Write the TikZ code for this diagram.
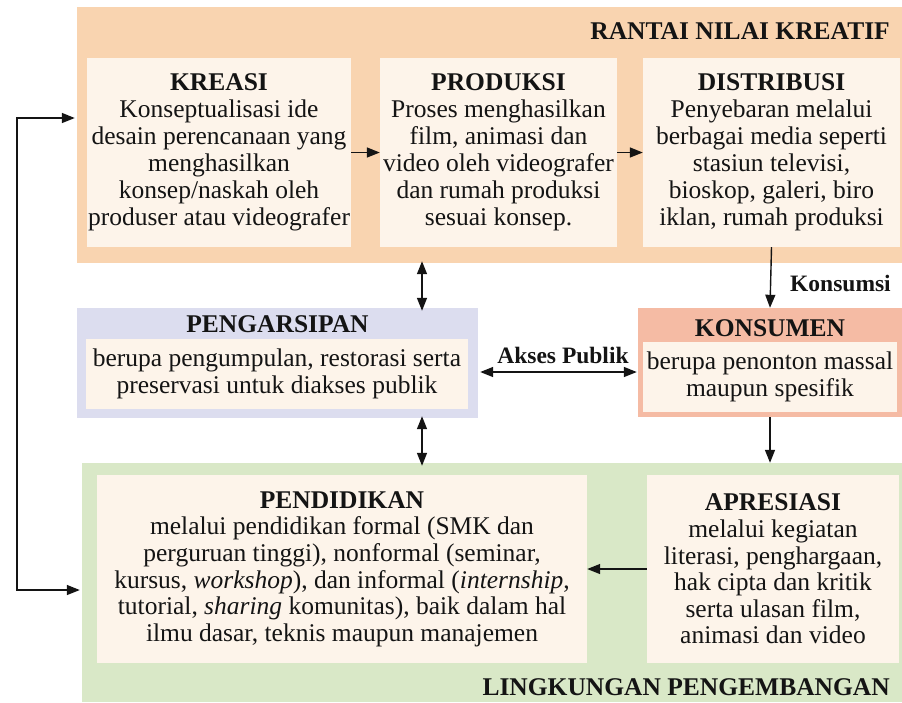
\documentclass[tikz,border=0pt]{standalone}
\usepackage{fontspec}
\setmainfont{Liberation Serif}
\usetikzlibrary{arrows.meta}
\definecolor{orangebg}{RGB}{249,212,176}
\definecolor{creambox}{RGB}{253,244,234}
\definecolor{lavbg}{RGB}{220,221,239}
\definecolor{salmonbg}{RGB}{245,187,164}
\definecolor{greenbg}{RGB}{217,232,199}
\definecolor{ink}{RGB}{20,20,20}
\tikzset{
  panel/.style={rectangle, inner sep=0pt, draw=none},
  cbox/.style={rectangle, fill=creambox, inner sep=0pt, align=center, text=ink,
    font=\fontsize{25.5}{27}\selectfont},
  ttl/.style={inner sep=0pt, text=ink, font=\fontsize{25.5}{27}\selectfont\bfseries},
  lbl/.style={inner sep=0pt, text=ink, font=\fontsize{23.5}{26}\selectfont\bfseries},
  arr/.style={draw=ink, line width=1.4pt, -{Triangle[length=13pt,width=10pt]}},
  darr/.style={draw=ink, line width=1.4pt, {Triangle[length=13pt,width=10pt]}-{Triangle[length=13pt,width=10pt]}}
}
\begin{document}
\begin{tikzpicture}[x=1pt,y=-1pt]
\useasboundingbox (0,0) rectangle (902,702);
% panels
\node[panel, fill=orangebg, minimum width=825, minimum height=256] (rantai) at (489.5,135) {};
\node[panel, fill=lavbg, minimum width=401, minimum height=110] (arsip) at (277.5,363) {};
\node[panel, fill=salmonbg, minimum width=264, minimum height=109] (konsumen) at (770,362.5) {};
\node[panel, fill=greenbg, minimum width=820, minimum height=239] (lingkungan) at (492,582.5) {};
% top boxes
\node[cbox, minimum width=264, minimum height=189] (kreasi) at (219,152.5)
  {\textbf{KREASI}\\Konseptualisasi ide\\desain perencanaan yang\\menghasilkan\\konsep/naskah oleh\\produser atau videografer};
\node[cbox, minimum width=237, minimum height=189] (produksi) at (498.5,152.5)
  {\textbf{PRODUKSI}\\Proses menghasilkan\\film, animasi dan\\video oleh videografer\\dan rumah produksi\\sesuai konsep.};
\node[cbox, minimum width=257, minimum height=189] (distribusi) at (771.5,152.5)
  {\textbf{DISTRIBUSI}\\Penyebaran melalui\\berbagai media seperti\\stasiun televisi,\\bioskop, galeri, biro\\iklan, rumah produksi};
\node[ttl, anchor=east] (rantaittl) at (890,31) {RANTAI NILAI KREATIF};
% middle
\node[ttl] (arsipttl) at (277.5,324) {PENGARSIPAN};
\node[cbox, minimum width=382, minimum height=70] (arsipin) at (277,374)
  {berupa pengumpulan, restorasi serta\\preservasi untuk diakses publik};
\node[ttl] (konsumenttl) at (770,328) {KONSUMEN};
\node[cbox, minimum width=254, minimum height=70] (konsumenin) at (770,377)
  {berupa penonton massal\\maupun spesifik};
% bottom
\node[cbox, minimum width=490, minimum height=188, font=\fontsize{25.5}{26.6}\selectfont] (pendidikan) at (342,569)
  {\textbf{PENDIDIKAN}\\melalui pendidikan formal (SMK dan\\perguruan tinggi), nonformal (seminar,\\kursus, \textit{workshop}), dan informal (\textit{internship},\\tutorial, \textit{sharing} komunitas), baik dalam hal\\ilmu dasar, teknis maupun manajemen};
\node[cbox, minimum width=252, minimum height=188, font=\fontsize{25.5}{26.6}\selectfont] (apresiasi) at (773,569)
  {\textbf{APRESIASI}\\melalui kegiatan\\literasi, penghargaan,\\hak cipta dan kritik\\serta ulasan film,\\animasi dan video};
\node[ttl, anchor=east] (lingttl) at (890,687) {LINGKUNGAN PENGEMBANGAN};
% connectors
\draw[arr] (kreasi.east) -- (produksi.west);
\draw[arr] (produksi.east) -- (distribusi.west);
\draw[arr] (distribusi.south) -- (konsumen.north);
\node[lbl, anchor=west] (konsumsi) at (790,283) {Konsumsi};
\draw[arr] (konsumen.south) -- (konsumen.south |- lingkungan.north);
\draw[arr] (apresiasi.west) -- (pendidikan.east);
\coordinate (ap) at (560,372);
\draw[darr] ([xshift=2pt]arsip.east |- ap) -- ([xshift=-1pt]konsumen.west |- ap);
\node[lbl] (akses) at (563,355) {Akses Publik};
\coordinate (v1) at (422,0);
\draw[darr] ([yshift=2pt]rantai.south -| v1) -- ([yshift=-3pt]arsip.north -| v1);
\draw[darr] ([yshift=2pt]arsip.south -| v1) -- ([yshift=-3pt]lingkungan.north -| v1);
\coordinate (la) at (17,118);
\coordinate (lb) at (17,590);
\draw[darr] ([xshift=-2pt]rantai.west |- la) -- (la) -- (lb) -- ([xshift=-2pt]lingkungan.west |- lb);
\end{tikzpicture}
\end{document}
